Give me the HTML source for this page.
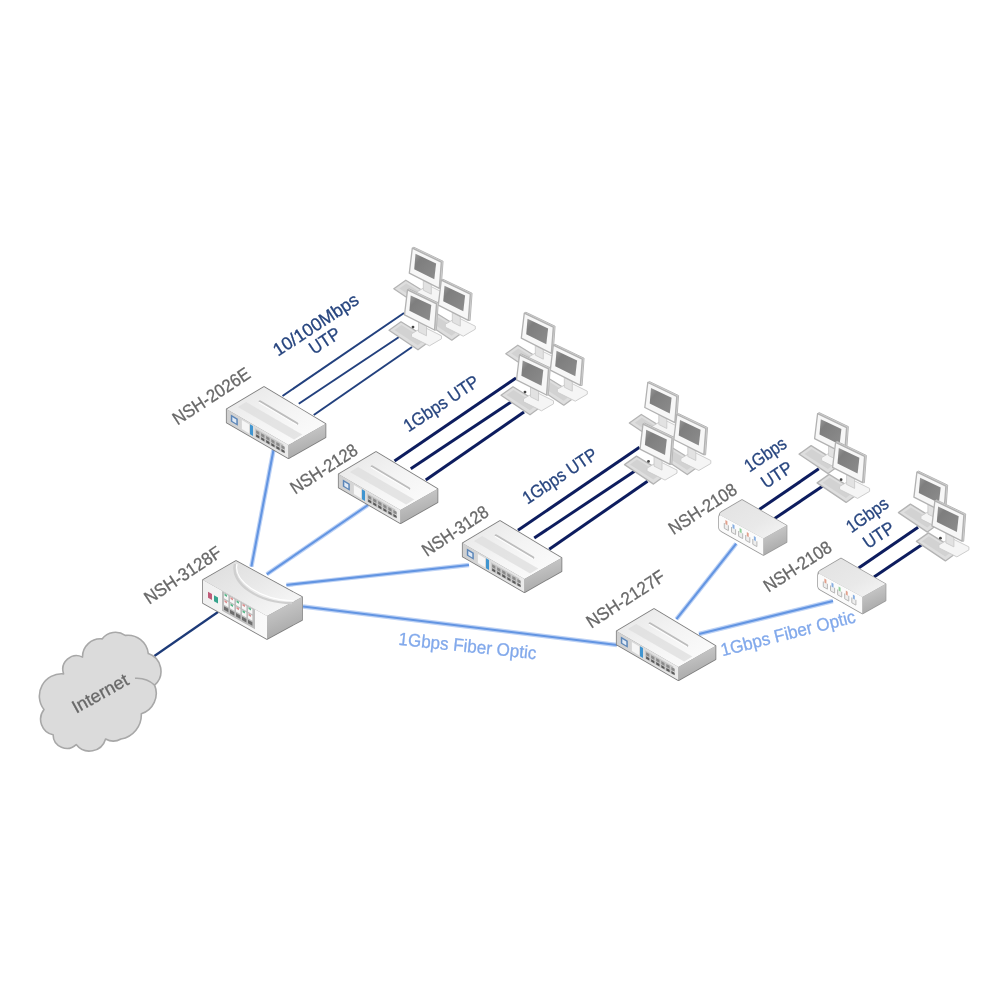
<!DOCTYPE html>
<html><head><meta charset="utf-8"><title>Network diagram</title>
<style>
html,body{margin:0;padding:0;background:#fff;}
body{width:1000px;height:1000px;overflow:hidden;}
svg{display:block;}
text{font-family:"Liberation Sans","DejaVu Sans",sans-serif;}
</style></head><body>
<svg width="1000" height="1000" viewBox="0 0 1000 1000">
<defs>
<linearGradient id="gtop" x1="0" y1="0" x2="1" y2="1"><stop offset="0" stop-color="#e6e6e6"/><stop offset=".5" stop-color="#f4f4f4"/><stop offset="1" stop-color="#fdfdfd"/></linearGradient>
<linearGradient id="gtop2" x1="0" y1="0" x2="1" y2="1"><stop offset="0" stop-color="#dcdcdc"/><stop offset=".45" stop-color="#e8e8e8"/><stop offset="1" stop-color="#fbfbfb"/></linearGradient>
<linearGradient id="gfront" x1="0" y1="0" x2="1" y2="0"><stop offset="0" stop-color="#cfcfcf"/><stop offset="1" stop-color="#ececec"/></linearGradient>
<linearGradient id="gfront2" x1="0" y1="0" x2="1" y2="0"><stop offset="0" stop-color="#f0f0f0"/><stop offset="1" stop-color="#fafafa"/></linearGradient>
<linearGradient id="gside" x1="0" y1="0" x2=".35" y2="1"><stop offset="0" stop-color="#d2d2d2"/><stop offset="1" stop-color="#a8a8a8"/></linearGradient>
<linearGradient id="gstop" x1="0" y1="0" x2="1" y2="1"><stop offset="0" stop-color="#e2e2e2"/><stop offset=".6" stop-color="#e9e9e9"/><stop offset="1" stop-color="#f6f6f6"/></linearGradient>
<linearGradient id="gscr" x1="0" y1="0" x2="1" y2="1"><stop offset="0" stop-color="#9a9a9a"/><stop offset=".25" stop-color="#7e7e7e"/><stop offset="1" stop-color="#8c8c8c"/></linearGradient>
<filter id="soft" x="-2%" y="-2%" width="104%" height="104%"><feGaussianBlur stdDeviation="0.65"/></filter>
<g id="sw"><polygon points="0.0,0.0 -37.3,22.3 -37.3,35.5 24.5,71.2 61.5,50.2 61.5,37.0" fill="#8a8a8a" stroke="#7d7d7d" stroke-width="1.6" stroke-linejoin="round"/><polygon points="0.0,0.0 -37.3,22.3 24.5,58.0 61.5,37.0" fill="url(#gtop)"/><polygon points="-37.3,22.3 24.5,58.0 24.5,71.2 -37.3,35.5" fill="url(#gfront)"/><polygon points="24.5,58.0 61.5,37.0 61.5,50.2 24.5,71.2" fill="url(#gside)"/><line x1="-4" y1="14.5" x2="33" y2="36.5" stroke="#bdbdbd" stroke-width="2.6" stroke-linecap="round"/><line x1="-4.6" y1="15.6" x2="32.4" y2="37.6" stroke="#ffffff" stroke-width="1.2" stroke-linecap="round"/><polygon points="-26.1,20.0 -17.9,15.1 38.3,47.6 30.1,52.5" fill="#dedede" opacity=".75"/><polygon points="-33.2,27.6 -26.2,31.7 -26.2,38.7 -33.2,34.6" fill="#5b86b8"/><polygon points="-31.7,30.0 -27.7,32.4 -27.7,36.4 -31.7,34.0" fill="#dfe9f5"/><polygon points="-22.1,33.1 -15.0,37.2 -15.0,46.2 -22.1,42.1" fill="#f6f6f6"/><polygon points="-14.0,37.3 -11.0,39.0 -11.0,49.0 -14.0,47.3" fill="#3f95d0"/><polygon points="-8.9,41.2 19.4,57.6 19.4,66.1 -8.9,49.7" fill="#c6c6c6"/><polygon points="-7.9,43.3 -4.7,45.1 -4.7,48.1 -7.9,46.3" fill="#8a8a8a"/><polygon points="-7.9,47.3 -4.7,49.1 -4.7,51.5 -7.9,49.7" fill="#5a5a5a"/><polygon points="-2.9,46.2 0.4,48.1 0.4,51.1 -2.9,49.2" fill="#8a8a8a"/><polygon points="-2.9,50.2 0.4,52.1 0.4,54.5 -2.9,52.6" fill="#5a5a5a"/><polygon points="2.2,49.1 5.5,51.0 5.5,54.0 2.2,52.1" fill="#8a8a8a"/><polygon points="2.2,53.1 5.5,55.0 5.5,57.4 2.2,55.5" fill="#5a5a5a"/><polygon points="7.3,52.1 10.5,53.9 10.5,56.9 7.3,55.1" fill="#8a8a8a"/><polygon points="7.3,56.1 10.5,57.9 10.5,60.3 7.3,58.5" fill="#5a5a5a"/><polygon points="12.3,55.0 15.6,56.8 15.6,59.8 12.3,58.0" fill="#8a8a8a"/><polygon points="12.3,59.0 15.6,60.8 15.6,63.2 12.3,61.4" fill="#5a5a5a"/><polygon points="17.4,57.9 20.7,59.8 20.7,62.8 17.4,60.9" fill="#8a8a8a"/><polygon points="17.4,61.9 20.7,63.8 20.7,66.2 17.4,64.3" fill="#5a5a5a"/></g>
<g id="msw"><polygon points="0.0,0.0 -33.0,19.0 -33.0,42.0 31.0,78.0 66.0,59.0 66.0,36.0" fill="#8a8a8a" stroke="#7d7d7d" stroke-width="1.6" stroke-linejoin="round"/><polygon points="0.0,0.0 -33.0,19.0 31.0,55.0 66.0,36.0" fill="url(#gtop2)"/><polygon points="-33.0,19.0 31.0,55.0 31.0,78.0 -33.0,42.0" fill="url(#gfront2)"/><polygon points="31.0,55.0 66.0,36.0 66.0,59.0 31.0,78.0" fill="url(#gside)"/><path d="M-1,3 C-6,22 22,42 56,42" fill="none" stroke="#cfcfcf" stroke-width="2.4"/><path d="M1,3 C-3,20 24,39 58,40" fill="none" stroke="#fff" stroke-width="1.2"/><polygon points="-28.0,30.8 -24.0,33.1 -24.0,39.1 -28.0,36.8" fill="#c05a78"/><polygon points="-22.0,34.2 -18.0,36.4 -18.0,42.4 -22.0,40.2" fill="#35a38c"/><polygon points="-14.0,30.0 19.0,48.5 19.0,68.2 -14.0,49.7" fill="#bdbdbd"/><polygon points="-12.0,32.3 -7.6,34.8 -7.6,39.8 -12.0,37.3" fill="#f6f6f6"/><polygon points="-12.0,38.8 -7.6,41.3 -7.6,46.3 -12.0,43.8" fill="#f6f6f6"/><polygon points="-11.5,32.6 -9.0,34.0 -9.0,36.0 -11.5,34.6" fill="#58b88a"/><polygon points="-11.5,39.1 -9.0,40.5 -9.0,42.5 -11.5,41.1" fill="#dc8f8f"/><polygon points="-12.0,45.3 -7.6,47.8 -7.6,51.3 -12.0,48.8" fill="#6e6e6e"/><polygon points="-6.0,35.7 -1.6,38.2 -1.6,43.2 -6.0,40.7" fill="#f6f6f6"/><polygon points="-6.0,42.2 -1.6,44.7 -1.6,49.7 -6.0,47.2" fill="#f6f6f6"/><polygon points="-5.5,36.0 -3.0,37.4 -3.0,39.4 -5.5,38.0" fill="#dc8f8f"/><polygon points="-5.5,42.5 -3.0,43.9 -3.0,45.9 -5.5,44.5" fill="#58b88a"/><polygon points="-6.0,48.7 -1.6,51.2 -1.6,54.7 -6.0,52.2" fill="#6e6e6e"/><polygon points="0.0,39.1 4.4,41.5 4.4,46.5 0.0,44.1" fill="#f6f6f6"/><polygon points="0.0,45.6 4.4,48.0 4.4,53.0 0.0,50.6" fill="#f6f6f6"/><polygon points="0.5,39.3 3.0,40.8 3.0,42.8 0.5,41.3" fill="#58b88a"/><polygon points="0.5,45.8 3.0,47.2 3.0,49.2 0.5,47.8" fill="#dc8f8f"/><polygon points="0.0,52.1 4.4,54.5 4.4,58.0 0.0,55.6" fill="#6e6e6e"/><polygon points="6.0,42.4 10.4,44.9 10.4,49.9 6.0,47.4" fill="#f6f6f6"/><polygon points="6.0,48.9 10.4,51.4 10.4,56.4 6.0,53.9" fill="#f6f6f6"/><polygon points="6.5,42.7 9.0,44.1 9.0,46.1 6.5,44.7" fill="#dc8f8f"/><polygon points="6.5,49.2 9.0,50.6 9.0,52.6 6.5,51.2" fill="#58b88a"/><polygon points="6.0,55.4 10.4,57.9 10.4,61.4 6.0,58.9" fill="#6e6e6e"/><polygon points="12.0,45.8 16.4,48.3 16.4,53.3 12.0,50.8" fill="#f6f6f6"/><polygon points="12.0,52.3 16.4,54.8 16.4,59.8 12.0,57.3" fill="#f6f6f6"/><polygon points="12.5,46.1 15.0,47.5 15.0,49.5 12.5,48.1" fill="#58b88a"/><polygon points="12.5,52.6 15.0,54.0 15.0,56.0 12.5,54.6" fill="#dc8f8f"/><polygon points="12.0,58.8 16.4,61.3 16.4,64.8 12.0,62.3" fill="#6e6e6e"/></g>
<g id="ssw"><path d="M0,0 L-20.5,12.0 Q-23.0,13.5 -23.0,16.5 L-23.0,28.0 Q-23.0,30.0 -20.5,31.3 L21.5,55.0 L44.6,42.1 L44.6,25.6 Z" fill="#9a9a9a" stroke="#9a9a9a" stroke-width="1.5" stroke-linejoin="round"/><path d="M0,0 L-20.5,12.0 Q-23.0,13.5 -22.0,15.0 L21.5,38.5 L44.6,25.6 Z" fill="url(#gstop)"/><path d="M-22.0,15.0 L21.5,38.5 L21.5,55.0 L-20.5,31.3 Q-23.0,30.0 -23.0,28.0 L-23.0,16.5 Z" fill="#fbfbfb"/><polygon points="21.5,38.5 44.6,25.6 44.6,42.1 21.5,55.0" fill="url(#gside)"/><path d="M-17.7,23.0 L-17.7,28.3 L-13.6,30.6 L-13.6,25.3" fill="#eeeeee" stroke="#b8b8b8" stroke-width="1"/><polygon points="-16.6,20.1 -14.6,21.2 -14.6,25.2 -16.6,24.1" fill="#e2a08c"/><path d="M-10.5,27.0 L-10.5,32.3 L-6.4,34.6 L-6.4,29.3" fill="#eeeeee" stroke="#b8b8b8" stroke-width="1"/><polygon points="-9.5,24.1 -7.5,25.2 -7.5,29.2 -9.5,28.1" fill="#86aee2"/><path d="M-3.4,31.0 L-3.4,36.3 L0.7,38.6 L0.7,33.3" fill="#eeeeee" stroke="#b8b8b8" stroke-width="1"/><polygon points="-2.4,28.1 -0.4,29.2 -0.4,33.2 -2.4,32.1" fill="#8fcf9a"/><path d="M3.7,35.0 L3.7,40.3 L7.8,42.6 L7.8,37.3" fill="#eeeeee" stroke="#b8b8b8" stroke-width="1"/><polygon points="4.8,32.1 6.7,33.2 6.7,37.2 4.8,36.1" fill="#e2a08c"/><path d="M10.8,39.0 L10.8,44.3 L14.9,46.6 L14.9,41.3" fill="#eeeeee" stroke="#b8b8b8" stroke-width="1"/><polygon points="11.9,36.1 13.8,37.2 13.8,41.2 11.9,40.1" fill="#86aee2"/></g>
<g id="pc"><polygon points="-18.5,40.5 -6.5,32.0 23.5,50.5 10.5,60.0" fill="#dedede" stroke="#b4b4b4" stroke-width="1.3" stroke-linejoin="round"/><polygon points="-13.0,40.3 -6.0,35.3 17.5,50.0 10.3,55.5" fill="#d2d2d2"/><path d="M4,44 L16,37 L34,46 L34,49 L22,56 L4,47 Z" fill="#f5f5f5" stroke="#cdcdcd" stroke-width="1.0" stroke-linejoin="round"/><polygon points="11.0,32.0 19.0,36.0 19.0,46.0 11.0,42.0" fill="#e2e2e2" stroke="#c6c6c6" stroke-width=".8"/><polygon points="0.0,0.0 1.6,-1.0 30.8,13.0 28.8,40.4 27.0,40.2 29.0,14.0" fill="#d6d6d6" stroke="#b8b8b8" stroke-width="1" stroke-linejoin="round"/><polygon points="0.0,0.0 29.0,14.0 27.0,40.2 -3.0,25.0" fill="#f7f7f7" stroke="#b2b2b2" stroke-width="1.3" stroke-linejoin="round"/><polygon points="3.2,5.6 23.8,15.3 22.0,31.0 1.9,21.0" fill="url(#gscr)"/></g>
<g id="pcf"><use href="#pc"/><circle cx="5.5" cy="37.3" r="1.4" fill="#444"/></g>
</defs>
<rect width="1000" height="1000" fill="#fff"/>
<g filter="url(#soft)">
<line x1="273.5" y1="450" x2="251.4" y2="566.6" stroke="#bdd2f5" stroke-width="4.4" />
<line x1="273.5" y1="450" x2="251.4" y2="566.6" stroke="#6395e2" stroke-width="2.1" />
<line x1="368" y1="505" x2="266.8" y2="574.3" stroke="#bdd2f5" stroke-width="4.4" />
<line x1="368" y1="505" x2="266.8" y2="574.3" stroke="#6395e2" stroke-width="2.1" />
<line x1="469" y1="565" x2="286.4" y2="585" stroke="#bdd2f5" stroke-width="4.4" />
<line x1="469" y1="565" x2="286.4" y2="585" stroke="#6395e2" stroke-width="2.1" />
<line x1="303" y1="606.5" x2="617" y2="645" stroke="#bdd2f5" stroke-width="4.4" />
<line x1="303" y1="606.5" x2="617" y2="645" stroke="#6395e2" stroke-width="2.1" />
<line x1="676.4" y1="619.2" x2="736.2" y2="543.7" stroke="#bdd2f5" stroke-width="4.4" />
<line x1="676.4" y1="619.2" x2="736.2" y2="543.7" stroke="#6395e2" stroke-width="2.1" />
<line x1="699" y1="634" x2="833" y2="601" stroke="#bdd2f5" stroke-width="4.4" />
<line x1="699" y1="634" x2="833" y2="601" stroke="#6395e2" stroke-width="2.1" />
<line x1="154.4" y1="656" x2="218" y2="612" stroke="#1f3a78" stroke-width="2.2" />
<line x1="282.5" y1="396" x2="404" y2="313" stroke="#22407e" stroke-width="2.0" />
<line x1="298.75" y1="403.75" x2="399" y2="337" stroke="#22407e" stroke-width="2.0" />
<line x1="313.75" y1="415" x2="412" y2="347" stroke="#22407e" stroke-width="2.0" />
<line x1="394.5" y1="461" x2="516" y2="378" stroke="#0d1f5e" stroke-width="3.0" />
<line x1="410.75" y1="468.75" x2="511" y2="402" stroke="#0d1f5e" stroke-width="3.0" />
<line x1="425.75" y1="480" x2="524" y2="412" stroke="#0d1f5e" stroke-width="3.0" />
<line x1="518.0" y1="530.3" x2="639.5" y2="447.3" stroke="#0d1f5e" stroke-width="3.0" />
<line x1="534.25" y1="538.05" x2="634.5" y2="471.3" stroke="#0d1f5e" stroke-width="3.0" />
<line x1="549.25" y1="549.3" x2="647.5" y2="481.3" stroke="#0d1f5e" stroke-width="3.0" />
<line x1="759.3" y1="509.6" x2="818.8" y2="468.8" stroke="#0d1f5e" stroke-width="3.0" />
<line x1="774.7" y1="518.4" x2="823.6" y2="485.6" stroke="#0d1f5e" stroke-width="3.0" />
<line x1="858.5999999999999" y1="568.1" x2="918.0999999999999" y2="527.3" stroke="#0d1f5e" stroke-width="3.0" />
<line x1="874.0" y1="576.9" x2="922.9" y2="544.1" stroke="#0d1f5e" stroke-width="3.0" />
<path d="M102.1,638.9 A16.7,16.7 0 0 1 125.2,635.4 A20.5,20.5 0 0 1 148.3,653.6 A18.5,18.5 0 0 1 154.6,685.1 A21.5,21.5 0 0 1 141.3,713.8 A24.5,24.5 0 0 1 121,739 A15.8,15.8 0 0 1 105.6,739 A16.8,16.8 0 0 1 76.2,744.6 A13.7,13.7 0 0 1 53.1,734.8 A15.8,15.8 0 0 1 44,709.6 A22.2,22.2 0 0 1 63.6,673.9 A13.7,13.7 0 0 1 82.5,657.1 A18,18 0 0 1 102.1,638.9 Z" fill="#dbdbdb" stroke="#a8a8a8" stroke-width="1.6" stroke-linejoin="round"/>
<path d="M154.6,685.1 Q146.5,677.5 135,678.3" fill="none" stroke="#a8a8a8" stroke-width="1.5"/>
<text transform="translate(722.5,656.3) rotate(-14.3)" font-size="18" fill="#82a9eb" stroke="#82a9eb" stroke-width="0.3" font-weight="normal" font-style="normal" textLength="138.4" lengthAdjust="spacingAndGlyphs">1Gbps Fiber Optic</text>
<use href="#sw" x="264" y="387"/>
<use href="#sw" x="376" y="452"/>
<use href="#sw" x="500" y="521"/>
<use href="#sw" x="654" y="609"/>
<use href="#msw" x="236" y="561"/>
<use href="#ssw" x="742" y="500"/>
<use href="#ssw" x="841" y="558.5"/>
<use href="#pc" x="412.3" y="248.2"/>
<use href="#pc" x="441.3" y="280.2"/>
<use href="#pcf" x="407.5" y="289.8"/>
<use href="#pc" x="524.3" y="313.2"/>
<use href="#pc" x="553.3" y="345.2"/>
<use href="#pcf" x="519.5" y="354.8"/>
<use href="#pc" x="647.8" y="382.5"/>
<use href="#pc" x="676.8" y="414.5"/>
<use href="#pcf" x="643.0" y="424.1"/>
<use href="#pc" x="817.6" y="413.6"/>
<use href="#pcf" x="835.6" y="442.40000000000003"/>
<use href="#pc" x="916.9" y="472.1"/>
<use href="#pcf" x="934.9" y="500.90000000000003"/>
<text transform="translate(177.4,425.6) rotate(-33.2)" font-size="18" fill="#686868" stroke="#686868" stroke-width="0.3" font-weight="normal" font-style="normal" textLength="88.9" lengthAdjust="spacingAndGlyphs">NSH-2026E</text>
<text transform="translate(278,356.8) rotate(-33.3)" font-size="18" fill="#27457f" stroke="#27457f" stroke-width="0.3" font-weight="normal" font-style="normal" textLength="98.4" lengthAdjust="spacingAndGlyphs">10/100Mbps</text>
<text transform="translate(314,355) rotate(-33.2)" font-size="18" fill="#27457f" stroke="#27457f" stroke-width="0.3" font-weight="normal" font-style="normal" textLength="33.4" lengthAdjust="spacingAndGlyphs">UTP</text>
<text transform="translate(295.2,494.8) rotate(-33.0)" font-size="18" fill="#686868" stroke="#686868" stroke-width="0.3" font-weight="normal" font-style="normal" textLength="76.3" lengthAdjust="spacingAndGlyphs">NSH-2128</text>
<text transform="translate(408.6,432.6) rotate(-33.7)" font-size="18" fill="#27457f" stroke="#27457f" stroke-width="0.3" font-weight="normal" font-style="normal" textLength="86.5" lengthAdjust="spacingAndGlyphs">1Gbps UTP</text>
<text transform="translate(427,557) rotate(-33.7)" font-size="18" fill="#686868" stroke="#686868" stroke-width="0.3" font-weight="normal" font-style="normal" textLength="75.7" lengthAdjust="spacingAndGlyphs">NSH-3128</text>
<text transform="translate(527.4,504.8) rotate(-33.6)" font-size="18" fill="#27457f" stroke="#27457f" stroke-width="0.3" font-weight="normal" font-style="normal" textLength="85.7" lengthAdjust="spacingAndGlyphs">1Gbps UTP</text>
<text transform="translate(673.6,535.2) rotate(-33.2)" font-size="18" fill="#686868" stroke="#686868" stroke-width="0.3" font-weight="normal" font-style="normal" textLength="77.4" lengthAdjust="spacingAndGlyphs">NSH-2108</text>
<text transform="translate(749.6,472.8) rotate(-34.5)" font-size="18" fill="#27457f" stroke="#27457f" stroke-width="0.3" font-weight="normal" font-style="normal" textLength="46.6" lengthAdjust="spacingAndGlyphs">1Gbps</text>
<text transform="translate(766,489) rotate(-33.2)" font-size="18" fill="#27457f" stroke="#27457f" stroke-width="0.3" font-weight="normal" font-style="normal" textLength="33.4" lengthAdjust="spacingAndGlyphs">UTP</text>
<text transform="translate(768.4,592.8) rotate(-33.2)" font-size="18" fill="#686868" stroke="#686868" stroke-width="0.3" font-weight="normal" font-style="normal" textLength="77.4" lengthAdjust="spacingAndGlyphs">NSH-2108</text>
<text transform="translate(851.6,533.6) rotate(-35.3)" font-size="18" fill="#27457f" stroke="#27457f" stroke-width="0.3" font-weight="normal" font-style="normal" textLength="47.1" lengthAdjust="spacingAndGlyphs">1Gbps</text>
<text transform="translate(868,549.2) rotate(-33.2)" font-size="18" fill="#27457f" stroke="#27457f" stroke-width="0.3" font-weight="normal" font-style="normal" textLength="33.4" lengthAdjust="spacingAndGlyphs">UTP</text>
<text transform="translate(591.2,628.8) rotate(-33.1)" font-size="18" fill="#686868" stroke="#686868" stroke-width="0.3" font-weight="normal" font-style="normal" textLength="90.0" lengthAdjust="spacingAndGlyphs">NSH-2127F</text>
<text transform="translate(149.2,604.8) rotate(-33.7)" font-size="18" fill="#686868" stroke="#686868" stroke-width="0.3" font-weight="normal" font-style="normal" textLength="88.6" lengthAdjust="spacingAndGlyphs">NSH-3128F</text>
<text transform="translate(398,644.8) rotate(6.0)" font-size="18" fill="#82a9eb" stroke="#82a9eb" stroke-width="0.3" font-weight="normal" font-style="normal" textLength="138.5" lengthAdjust="spacingAndGlyphs">1Gbps Fiber Optic</text>
<text transform="translate(76.2,713.8) rotate(-29.2)" font-size="18" fill="#686868" stroke="#686868" stroke-width="0.3" font-weight="normal" font-style="normal" textLength="61.7" lengthAdjust="spacingAndGlyphs">Internet</text>
</g>
</svg>
</body></html>
